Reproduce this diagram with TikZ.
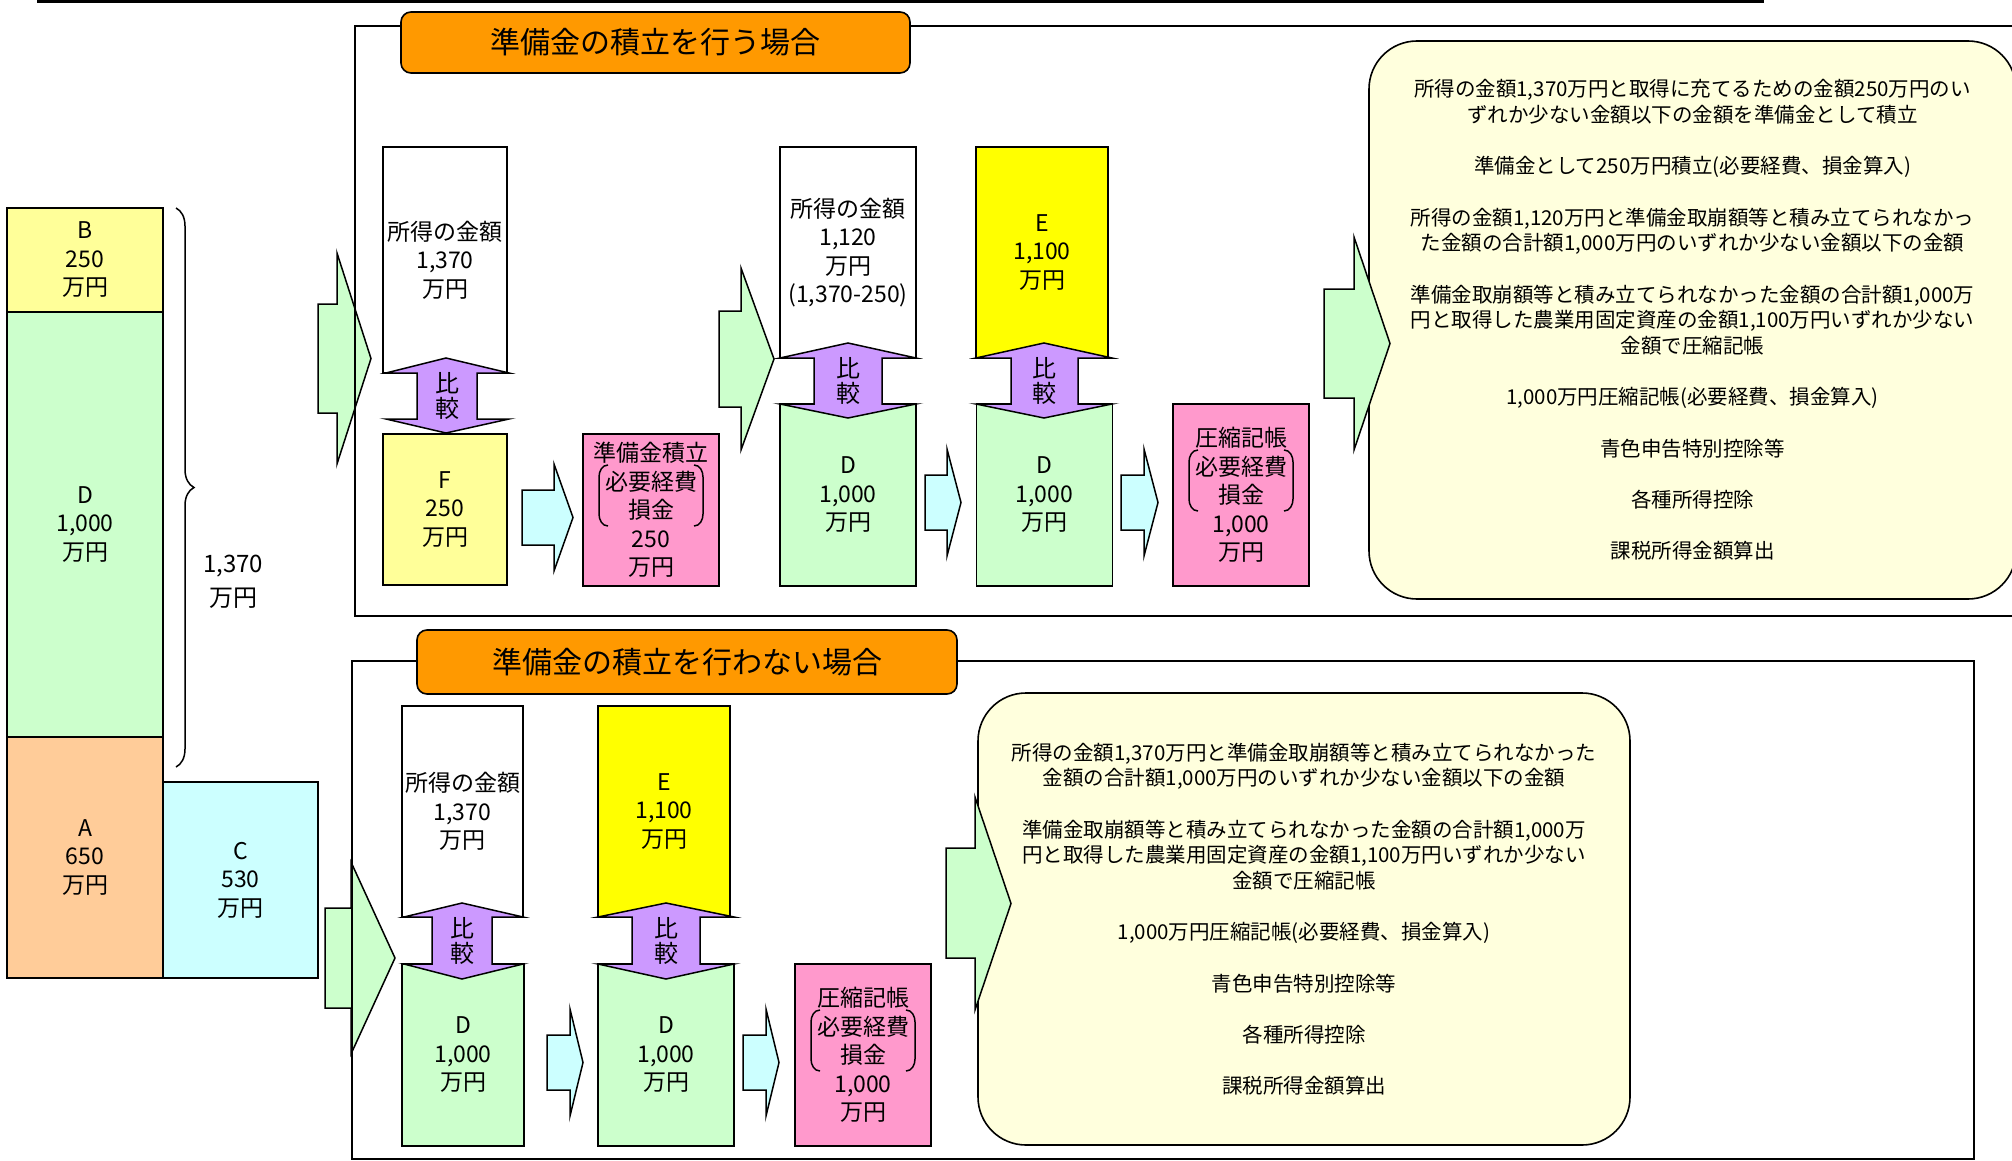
\documentclass[tikz,border=0pt]{standalone}
\usepackage{fontspec}
\setmainfont{Noto Sans CJK JP}
\usetikzlibrary{decorations.pathreplacing}
\definecolor{paleyellow}{HTML}{FFFF99}
\definecolor{palegreen}{HTML}{CCFFCC}
\definecolor{paleorange}{HTML}{FFCC99}
\definecolor{palecyan}{HTML}{CCFFFF}
\definecolor{cellpink}{HTML}{FF99CC}
\definecolor{cellyellow}{HTML}{FFFF00}
\definecolor{lilac}{HTML}{CC99FF}
\definecolor{titleorange}{HTML}{FF9900}
\definecolor{cream}{HTML}{FFFFDD}
\begin{document}
\begin{tikzpicture}
    [
    x=1pt,y=-1pt,
    cell/.style={draw,line width=1.6pt,inner sep=0pt,align=center,font=\fontsize{23}{28.5}\selectfont},
    casebox/.style={line width=1.8pt},
    casetitle/.style={draw,line width=1.6pt,fill=titleorange,rounded corners=10pt,inner sep=0pt,font=\fontsize{30}{36}\selectfont},
    note/.style={draw,line width=1.6pt,fill=cream,rounded corners=48pt,inner sep=0pt,align=center,font=\fontsize{20.5}{25.8}\selectfont},
    bigarrow/.style={draw,line width=1.5pt,fill=palegreen},
    smallarrow/.style={draw,line width=1.5pt,fill=palecyan},
    compare/.style={draw,line width=1.5pt,fill=lilac},
    comparetext/.style={inner sep=0pt,align=center,font=\fontsize{24}{25}\selectfont},
    paren/.style={line width=1.5pt},
    sumbrace/.style={decorate,decoration={brace,amplitude=18pt},line width=1.5pt}
    ]
    \useasboundingbox (0,0) rectangle (2012,1161);
    \draw [line width=2.5pt] (38,-10) rectangle (1763,1.5);
    % notes on the right
    \node (n1) at (1692.5,320) [note,minimum width=647pt,minimum height=558pt]
      {所得の金額1,370万円と取得に充てるための金額250万円のい\\
       ずれか少ない金額以下の金額を準備金として積立\\[25.4pt]
       準備金として250万円積立(必要経費、損金算入)\\[25.4pt]
       所得の金額1,120万円と準備金取崩額等と積み立てられなかっ\\
       た金額の合計額1,000万円のいずれか少ない金額以下の金額\\[25.4pt]
       準備金取崩額等と積み立てられなかった金額の合計額1,000万\\
       円と取得した農業用固定資産の金額1,100万円いずれか少ない\\
       金額で圧縮記帳\\[25.4pt]
       1,000万円圧縮記帳(必要経費、損金算入)\\[25.4pt]
       青色申告特別控除等\\[25.4pt]
       各種所得控除\\[25.4pt]
       課税所得金額算出};
    \node (n2) at (1304,919) [note,minimum width=652pt,minimum height=452pt]
      {所得の金額1,370万円と準備金取崩額等と積み立てられなかった\\
       金額の合計額1,000万円のいずれか少ない金額以下の金額\\[25.4pt]
       準備金取崩額等と積み立てられなかった金額の合計額1,000万\\
       円と取得した農業用固定資産の金額1,100万円いずれか少ない\\
       金額で圧縮記帳\\[25.4pt]
       1,000万円圧縮記帳(必要経費、損金算入)\\[25.4pt]
       青色申告特別控除等\\[25.4pt]
       各種所得控除\\[25.4pt]
       課税所得金額算出};
    % block arrows
    \draw [bigarrow] (318,304) -- (337,304) -- (337,253) -- (371,358.5) -- (337,464) -- (337,413) -- (318,413) -- cycle;
    \draw [bigarrow] (719,311) -- (741,311) -- (741,268) -- (774,359) -- (741,450) -- (741,407) -- (719,407) -- cycle;
    \draw [bigarrow] (1324,289) -- (1354,289) -- (1354,237) -- (1390,343.5) -- (1354,450) -- (1354,398) -- (1324,398) -- cycle;
    \draw [bigarrow] (325,908) -- (351,908) -- (351,862) -- (395,958) -- (351,1054) -- (351,1008) -- (325,1008) -- cycle;
    \draw [bigarrow] (946,848) -- (975,848) -- (975,797) -- (1011,903.5) -- (975,1010) -- (975,958) -- (946,958) -- cycle;
    \draw [smallarrow] (522,490) -- (554,490) -- (554,464) -- (573,517.5) -- (554,571) -- (554,545) -- (522,545) -- cycle;
    \draw [smallarrow] (925,475) -- (947,475) -- (947,449) -- (961,502.5) -- (947,556) -- (947,530) -- (925,530) -- cycle;
    \draw [smallarrow] (1121,475) -- (1144,475) -- (1144,449) -- (1158,502.5) -- (1144,556) -- (1144,530) -- (1121,530) -- cycle;
    \draw [smallarrow] (547,1035) -- (570,1035) -- (570,1009) -- (583,1062.5) -- (570,1116) -- (570,1090) -- (547,1090) -- cycle;
    \draw [smallarrow] (743,1035) -- (766,1035) -- (766,1009) -- (779,1062.5) -- (766,1116) -- (766,1090) -- (743,1090) -- cycle;
    % the two cases
    \draw [casebox] (2030,26) -- (355,26) -- (355,616) -- (2030,616);
    \draw [casebox] (352,661) rectangle (1974,1159);
    \node (t1) at (655.5,42.5) [casetitle,minimum width=509pt,minimum height=61pt] {準備金の積立を行う場合};
    \node (t2) at (687,662) [casetitle,minimum width=540pt,minimum height=64pt] {準備金の積立を行わない場合};
    % income on the left
    \node (b) at (85,260) [cell,fill=paleyellow,minimum width=156pt,minimum height=104pt] {B\\250\\万円};
    \node (d) at (85,524.5) [cell,fill=palegreen,minimum width=156pt,minimum height=425pt] {D\\1,000\\万円};
    \node (a) at (85,857.5) [cell,fill=paleorange,minimum width=156pt,minimum height=241pt] {A\\650\\万円};
    \node (c) at (240.5,880) [cell,fill=palecyan,minimum width=155pt,minimum height=196pt] {C\\530\\万円};
    \draw [sumbrace] (176,208) -- (176,767);
    \node (sum) at (233,582) [align=center,inner sep=0pt,font=\fontsize{24}{34}\selectfont] {1,370\\万円};
    % upper row
    \node (w1) at (445,260) [cell,fill=white,minimum width=124pt,minimum height=226pt] {所得の金額\\1,370\\万円};
    \node (f) at (445,509.5) [cell,fill=paleyellow,minimum width=124pt,minimum height=151pt] {F\\250\\万円};
    \node (r1) at (651,510) [cell,fill=cellpink,minimum width=136pt,minimum height=152pt] {準備金積立\\必要経費\\損金\\250\\万円};
    \node (w2) at (848,252.5) [cell,fill=white,minimum width=136pt,minimum height=211pt] {所得の金額\\1,120\\万円\\(1,370-250)};
    \node (d1) at (848,495) [cell,fill=palegreen,minimum width=136pt,minimum height=182pt] {D\\1,000\\万円};
    \node (e1) at (1042,252.5) [cell,fill=cellyellow,minimum width=132pt,minimum height=211pt] {E\\1,100\\万円};
    \node (d2) at (1044.5,495) [cell,fill=palegreen,minimum width=136pt,minimum height=182pt] {D\\1,000\\万円};
    \node (r2) at (1241,495) [cell,fill=cellpink,minimum width=136pt,minimum height=182pt] {圧縮記帳\\必要経費\\損金\\1,000\\万円};
    % lower row
    \node (w3) at (462.5,811.5) [cell,fill=white,minimum width=121pt,minimum height=211pt] {所得の金額\\1,370\\万円};
    \node (e2) at (664,811.5) [cell,fill=cellyellow,minimum width=132pt,minimum height=211pt] {E\\1,100\\万円};
    \node (d3) at (463,1055) [cell,fill=palegreen,minimum width=122pt,minimum height=182pt] {D\\1,000\\万円};
    \node (d4) at (666,1055) [cell,fill=palegreen,minimum width=136pt,minimum height=182pt] {D\\1,000\\万円};
    \node (r3) at (863,1055) [cell,fill=cellpink,minimum width=136pt,minimum height=182pt] {圧縮記帳\\必要経費\\損金\\1,000\\万円};
    % brackets round the expense lines
    \draw [paren,shift={(r1.center)}] (-43,-45) to[out=180,in=90] (-52,-33) -- (-52,4) to[out=-90,in=180] (-43,16);
    \draw [paren,shift={(r1.center)}] (43,-45) to[out=0,in=90] (52,-33) -- (52,4) to[out=-90,in=0] (43,16);
    \draw [paren,shift={(r2.center)}] (-43,-45) to[out=180,in=90] (-52,-33) -- (-52,4) to[out=-90,in=180] (-43,16);
    \draw [paren,shift={(r2.center)}] (43,-45) to[out=0,in=90] (52,-33) -- (52,4) to[out=-90,in=0] (43,16);
    \draw [paren,shift={(r3.center)}] (-43,-45) to[out=180,in=90] (-52,-33) -- (-52,4) to[out=-90,in=180] (-43,16);
    \draw [paren,shift={(r3.center)}] (43,-45) to[out=0,in=90] (52,-33) -- (52,4) to[out=-90,in=0] (43,16);
    % comparisons
    \draw [compare] (446,358) -- (509,373) -- (477,373) -- (477,419) -- (509,419) -- (446,433) -- (386,419) -- (417,419) -- (417,373) -- (386,373) -- cycle;
    \node (k1) at (447,396) [comparetext] {比\\較};
    \draw [compare] (848,343) -- (916,358) -- (882,358) -- (882,404) -- (916,404) -- (848,418) -- (780,404) -- (814,404) -- (814,358) -- (780,358) -- cycle;
    \node (k2) at (848,381) [comparetext] {比\\較};
    \draw [compare] (1044,343) -- (1112,358) -- (1078,358) -- (1078,404) -- (1112,404) -- (1044,418) -- (976,404) -- (1011,404) -- (1011,358) -- (976,358) -- cycle;
    \node (k3) at (1044.5,381) [comparetext] {比\\較};
    \draw [compare] (462,903) -- (523,917) -- (492,917) -- (492,964) -- (523,964) -- (462,979) -- (404,964) -- (432,964) -- (432,917) -- (404,917) -- cycle;
    \node (k4) at (462,940.5) [comparetext] {比\\較};
    \draw [compare] (666,903) -- (734,917) -- (700,917) -- (700,964) -- (734,964) -- (666,979) -- (598,964) -- (632,964) -- (632,917) -- (598,917) -- cycle;
    \node (k5) at (666,940.5) [comparetext] {比\\較};
  \end{tikzpicture}
\end{document}
